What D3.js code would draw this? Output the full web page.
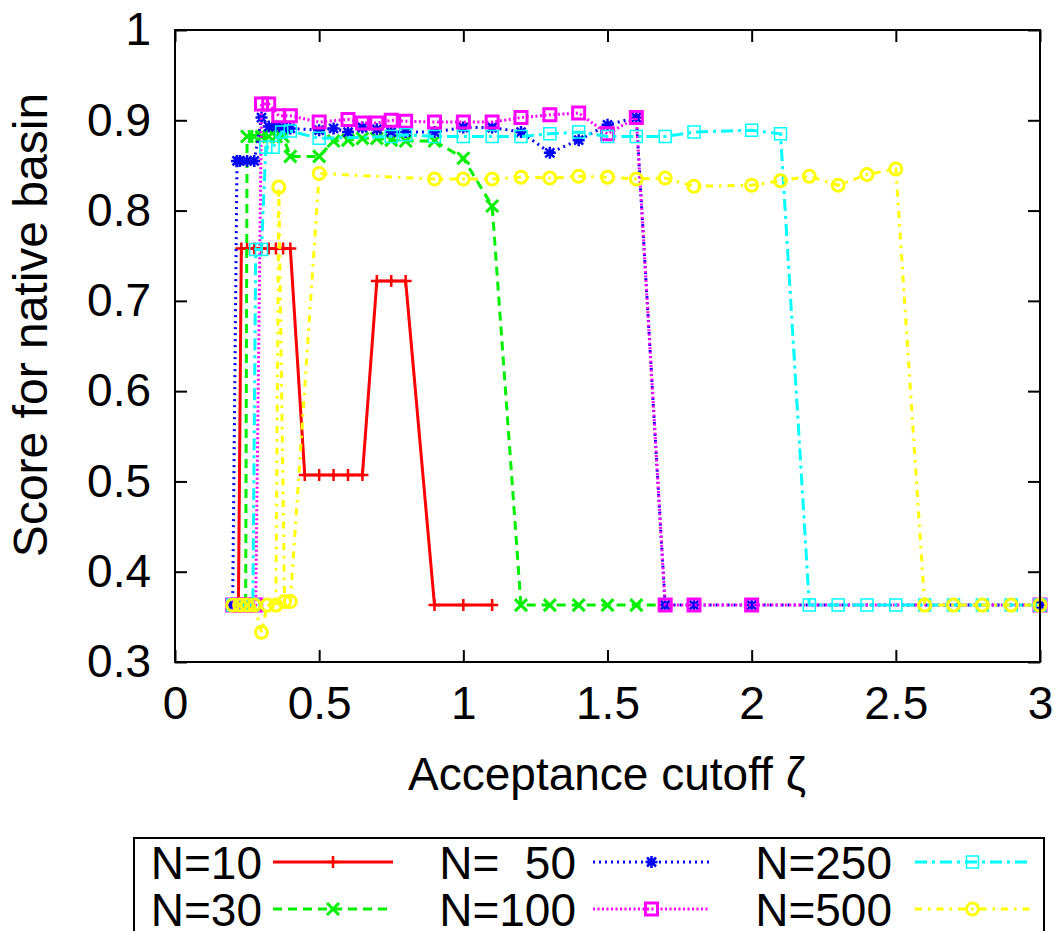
<!DOCTYPE html>
<html><head><meta charset="utf-8">
<script src="https://cdn.jsdelivr.net/npm/d3@7"></script>
<style>body{margin:0;background:#fff}svg{display:block}</style>
</head><body>
<svg id="c" width="1054" height="931"></svg>
<script>
// ---- data ----
const xTicks = [0, 0.5, 1, 1.5, 2, 2.5, 3];
const xTickLabels = ["0", "0.5", "1", "1.5", "2", "2.5", "3"];
const yTicks = [0.3, 0.4, 0.5, 0.6, 0.7, 0.8, 0.9, 1];
const yTickLabels = ["0.3", "0.4", "0.5", "0.6", "0.7", "0.8", "0.9", "1"];
const xLabel = "Acceptance cutoff ζ";
const yLabel = "Score for native basin";

const seriesNames = ["N=10", "N=30", "N=  50", "N=100", "N=250", "N=500"];

const xN10 = [0.22, 0.23, 0.25, 0.275, 0.3, 0.325, 0.35, 0.375, 0.4, 0.45, 0.5, 0.55, 0.6, 0.65, 0.7, 0.75, 0.8, 0.9, 1.0, 1.1];
const yN10 = [0.363, 0.758, 0.758, 0.758, 0.758, 0.758, 0.758, 0.758, 0.758, 0.507, 0.507, 0.507, 0.507, 0.507, 0.722, 0.722, 0.722, 0.363, 0.363, 0.363];

const xN30 = [0.2, 0.22, 0.245, 0.25, 0.275, 0.3, 0.325, 0.35, 0.375, 0.4, 0.5, 0.55, 0.6, 0.65, 0.7, 0.75, 0.8, 0.9, 1.0, 1.1, 1.2, 1.3, 1.4, 1.5, 1.6, 1.7];
const yN30 = [0.363, 0.363, 0.363, 0.882, 0.882, 0.882, 0.882, 0.882, 0.882, 0.860, 0.860, 0.877, 0.878, 0.880, 0.880, 0.878, 0.877, 0.877, 0.858, 0.805, 0.363, 0.363, 0.363, 0.363, 0.363, 0.363];

const xN50 = [0.2, 0.215, 0.225, 0.25, 0.275, 0.3, 0.325, 0.35, 0.375, 0.4, 0.5, 0.55, 0.6, 0.65, 0.7, 0.75, 0.8, 0.9, 1.0, 1.1, 1.2, 1.3, 1.4, 1.5, 1.6, 1.7, 1.8, 2.0, 3.0];
const yN50 = [0.363, 0.855, 0.855, 0.855, 0.855, 0.903, 0.893, 0.893, 0.892, 0.891, 0.889, 0.891, 0.887, 0.892, 0.890, 0.887, 0.887, 0.887, 0.892, 0.892, 0.887, 0.864, 0.878, 0.895, 0.903, 0.363, 0.363, 0.363, 0.363];

const xN100 = [0.2, 0.225, 0.25, 0.28, 0.3, 0.325, 0.36, 0.4, 0.5, 0.6, 0.65, 0.7, 0.75, 0.8, 0.9, 1.0, 1.1, 1.2, 1.3, 1.4, 1.5, 1.6, 1.7, 1.8, 2.0, 3.0];
const yN100 = [0.363, 0.363, 0.363, 0.363, 0.918, 0.918, 0.905, 0.905, 0.898, 0.901, 0.897, 0.897, 0.900, 0.899, 0.898, 0.898, 0.898, 0.903, 0.906, 0.908, 0.885, 0.903, 0.363, 0.363, 0.363, 0.363];

const xN250 = [0.2, 0.225, 0.25, 0.27, 0.28, 0.3, 0.315, 0.34, 0.37, 0.4, 0.5, 0.75, 0.8, 0.9, 1.0, 1.1, 1.2, 1.3, 1.4, 1.5, 1.6, 1.7, 1.8, 2.0, 2.1, 2.2, 2.3, 2.4, 2.5, 2.6, 2.7, 2.8, 2.9, 3.0];
const yN250 = [0.363, 0.363, 0.363, 0.363, 0.757, 0.757, 0.870, 0.870, 0.887, 0.888, 0.880, 0.882, 0.884, 0.882, 0.882, 0.882, 0.882, 0.885, 0.887, 0.882, 0.882, 0.882, 0.887, 0.889, 0.885, 0.363, 0.363, 0.363, 0.363, 0.363, 0.363, 0.363, 0.363, 0.363];

const xN500 = [0.2, 0.225, 0.25, 0.275, 0.3, 0.32, 0.35, 0.36, 0.38, 0.4, 0.5, 0.9, 1.0, 1.1, 1.2, 1.3, 1.4, 1.5, 1.6, 1.7, 1.8, 2.0, 2.1, 2.2, 2.3, 2.4, 2.5, 2.6, 2.7, 2.8, 2.9, 3.0];
const yN500 = [0.363, 0.363, 0.363, 0.363, 0.333, 0.363, 0.363, 0.826, 0.367, 0.367, 0.841, 0.835, 0.835, 0.835, 0.837, 0.836, 0.838, 0.837, 0.835, 0.836, 0.827, 0.828, 0.833, 0.838, 0.828, 0.840, 0.846, 0.363, 0.363, 0.363, 0.363, 0.363];

// ---- styles ----
const styles = [
  {color: "#ff0000", dash: null, marker: "plus", mw: 2.5},
  {color: "#00f000", dash: "9,6", marker: "cross", mw: 3},
  {color: "#0000ff", dash: "2,4", marker: "star", mw: 2.5},
  {color: "#ff00ff", dash: "2,2.5", marker: "square", mw: 3},
  {color: "#00ffff", dash: "12,5,3,5", marker: "square", mw: 1.5},
  {color: "#ffff00", dash: "7,6,2.5,6", marker: "circle", mw: 3}
];
const seriesX = [xN10, xN30, xN50, xN100, xN250, xN500];
const seriesY = [yN10, yN30, yN50, yN100, yN250, yN500];

const svg = d3.select("#c");
const L = 175, R = 1040, T = 30, B = 662;
const x = d3.scaleLinear().domain([0, 3]).range([L, R]);
const y = d3.scaleLinear().domain([0.3, 1]).range([B, T]);
const font = "'Liberation Sans', Arial, Helvetica, sans-serif";

function markerPath(type, s) {
  switch (type) {
    case "plus": return `M${-s},0H${s}M0,${-s}V${s}`;
    case "cross": return `M${-s},${-s}L${s},${s}M${-s},${s}L${s},${-s}`;
    case "star": return `M${-s},0H${s}M0,${-s}V${s}M${-s*0.75},${-s*0.75}L${s*0.75},${s*0.75}M${-s*0.75},${s*0.75}L${s*0.75},${-s*0.75}`;
    case "square": return `M${-s},${-s}H${s}V${s}H${-s}Z`;
    case "circle": return d3.symbol(d3.symbolCircle, Math.PI * s * s)();
  }
}

// axes (ticks inside, mirrored)
const gx = svg.append("g").attr("transform", `translate(0,${B})`)
  .call(d3.axisBottom(x).tickValues(xTicks).tickSize(-12).tickFormat((d, i) => xTickLabels[i]).tickPadding(24));
const gxt = svg.append("g").attr("transform", `translate(0,${T})`)
  .call(d3.axisTop(x).tickValues(xTicks).tickSize(-12).tickFormat(""));
const gy = svg.append("g").attr("transform", `translate(${L},0)`)
  .call(d3.axisLeft(y).tickValues(yTicks).tickSize(-12).tickFormat((d, i) => yTickLabels[i]).tickPadding(24));
const gyr = svg.append("g").attr("transform", `translate(${R},0)`)
  .call(d3.axisRight(y).tickValues(yTicks).tickSize(-12).tickFormat(""));
[gx, gxt, gy, gyr].forEach(g => {
  g.select(".domain").remove();
  g.selectAll(".tick line").attr("stroke", "#000").attr("stroke-width", 2);
  g.selectAll("text").attr("font-family", font).attr("font-size", 46).attr("fill", "#000");
});
gx.selectAll("text").attr("dy", "0.71em");

// series
const plot = svg.append("g");
const line = d3.line().x(d => x(d[0])).y(d => y(d[1]));
seriesX.forEach((xs, i) => {
  const st = styles[i];
  const pts = xs.map((v, j) => [v, seriesY[i][j]]);
  plot.append("path").attr("d", line(pts)).attr("fill", "none")
    .attr("stroke", st.color).attr("stroke-width", 3)
    .attr("stroke-dasharray", st.dash);
  plot.selectAll(null).data(pts).join("path")
    .attr("transform", d => `translate(${x(d[0])},${y(d[1])})`)
    .attr("d", markerPath(st.marker, 6))
    .attr("fill", "none").attr("stroke", st.color).attr("stroke-width", st.mw);
});

// frame
svg.append("rect").attr("x", L).attr("y", T).attr("width", R - L).attr("height", B - T)
  .attr("fill", "none").attr("stroke", "#000").attr("stroke-width", 2);

// axis labels
svg.append("text").attr("x", 607).attr("y", 790).attr("text-anchor", "middle")
  .attr("font-family", font).attr("font-size", 46).text(xLabel);
svg.append("text").attr("transform", "translate(47,325) rotate(-90)").attr("text-anchor", "middle")
  .attr("font-family", font).attr("font-size", 48).text(yLabel);

// legend
const leg = svg.append("g");
leg.append("rect").attr("x", 134).attr("y", 838).attr("width", 910).attr("height", 140)
  .attr("fill", "none").attr("stroke", "#000").attr("stroke-width", 2);
const colText = [262, 576, 892], colL0 = [273, 593, 915], colL1 = [393, 710, 1030];
const rowY = [862, 909];
seriesNames.forEach((name, i) => {
  const c = Math.floor(i / 2), r = i % 2, st = styles[i];
  leg.append("text").attr("x", colText[c]).attr("y", rowY[r]).attr("dy", "0.36em")
    .attr("text-anchor", "end").attr("font-family", font).attr("font-size", 46)
    .style("white-space", "pre").text(name);
  leg.append("line").attr("x1", colL0[c]).attr("x2", colL1[c]).attr("y1", rowY[r]).attr("y2", rowY[r])
    .attr("stroke", st.color).attr("stroke-width", 3).attr("stroke-dasharray", st.dash);
  leg.append("path").attr("transform", `translate(${(colL0[c] + colL1[c]) / 2},${rowY[r]})`)
    .attr("d", markerPath(st.marker, 6)).attr("fill", "none")
    .attr("stroke", st.color).attr("stroke-width", st.mw);
});
</script>
</body></html>
